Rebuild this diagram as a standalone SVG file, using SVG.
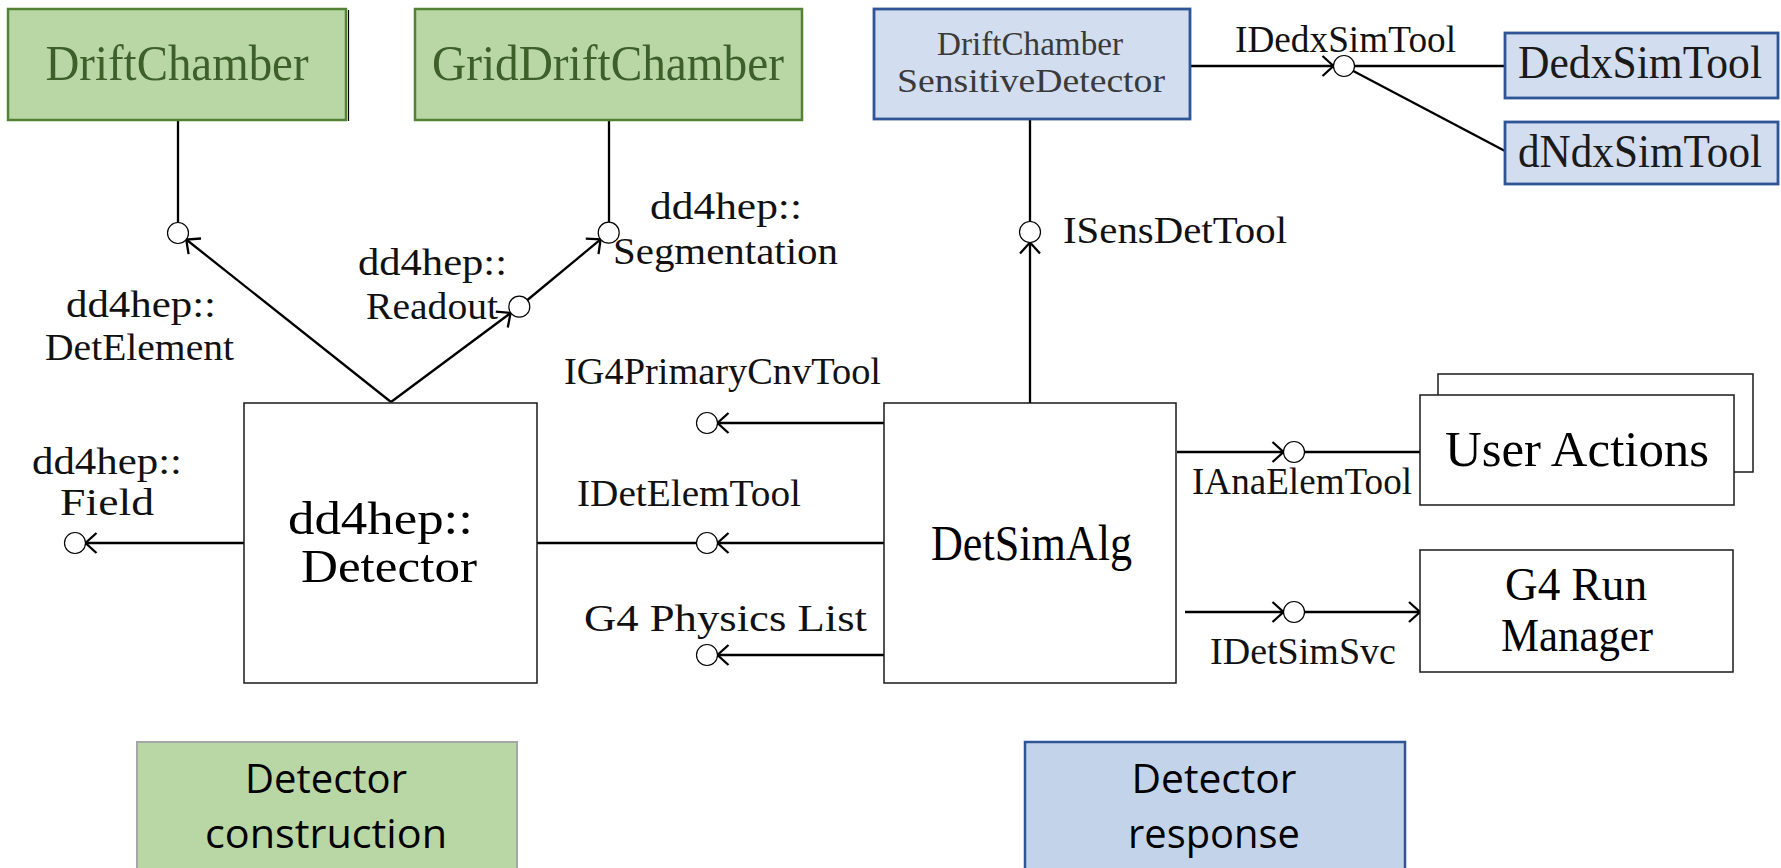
<svg xmlns="http://www.w3.org/2000/svg" width="1781" height="868" viewBox="0 0 1781 868">
  <defs>
    <style>
      .m { font-family: "Liberation Serif", "DejaVu Serif", serif; }
      .big { font-size: 50px; }
      .mid { font-size: 46px; }
      .lbl { font-size: 38px; fill: #111; }
      .sd { font-size: 33px; fill: #3a3a3a; }
      .green { fill: #b9d7a4; stroke: #548235; stroke-width: 2.5; }
      .gtext { fill: #3d5f2a; }
      .blue { fill: #d2deef; stroke: #2f5597; stroke-width: 2.8; }
      .plain { fill: #fff; stroke: #1a1a1a; stroke-width: 1.5; }
      .wire { stroke: #000; stroke-width: 2.3; fill: none; }
      .port { fill: #fff; stroke: #000; stroke-width: 1.2; }
      .legend { font-family: "Open Sans", "Liberation Sans", sans-serif; font-size: 40px; fill: #000; }
    </style>
    <marker id="arr" markerUnits="userSpaceOnUse" markerWidth="30" markerHeight="30" viewBox="-15 -15 30 30" refX="0" refY="0" orient="auto" overflow="visible">
      <path d="M-11,-10 L0,0 L-11,10" fill="none" stroke="#000" stroke-width="2.3"/>
    </marker>
  </defs>

  <rect width="1781" height="868" fill="#fff"/>

  <!-- connectors -->
  <g id="connectors">
    <!-- DriftChamber / DetElement -->
    <line class="wire" x1="178" y1="120" x2="178" y2="222.5"/>
    <line class="wire" x1="391" y1="402" x2="186.2" y2="239.5" marker-end="url(#arr)"/>
    <!-- Readout and Segmentation -->
    <line class="wire" x1="391" y1="402" x2="510.6" y2="313" marker-end="url(#arr)"/>
    <line class="wire" x1="527.4" y1="300" x2="600.6" y2="239.4" marker-end="url(#arr)"/>
    <line class="wire" x1="609" y1="120" x2="609" y2="222"/>
    <!-- Field -->
    <line class="wire" x1="244" y1="543" x2="85.5" y2="543" marker-end="url(#arr)"/>
    <!-- DetSimAlg tool interfaces -->
    <line class="wire" x1="884" y1="423" x2="717.5" y2="423" marker-end="url(#arr)"/>
    <line class="wire" x1="884" y1="543" x2="717.5" y2="543" marker-end="url(#arr)"/>
    <line class="wire" x1="537" y1="543" x2="696.5" y2="543"/>
    <line class="wire" x1="884" y1="655" x2="717.5" y2="655" marker-end="url(#arr)"/>
    <!-- ISensDetTool -->
    <line class="wire" x1="1030" y1="403" x2="1030" y2="242.5" marker-end="url(#arr)"/>
    <line class="wire" x1="1030" y1="120" x2="1030" y2="221.5"/>
    <!-- IDedxSimTool -->
    <line class="wire" x1="1190" y1="66" x2="1333.5" y2="66" marker-end="url(#arr)"/>
    <line class="wire" x1="1354.5" y1="66" x2="1505" y2="66"/>
    <line class="wire" x1="1353.3" y1="70.9" x2="1505" y2="151"/>
    <!-- IAnaElemTool -->
    <line class="wire" x1="1177" y1="452" x2="1283.5" y2="452" marker-end="url(#arr)"/>
    <line class="wire" x1="1304.5" y1="452" x2="1420" y2="452"/>
    <!-- IDetSimSvc -->
    <line class="wire" x1="1185" y1="612" x2="1283.5" y2="612" marker-end="url(#arr)"/>
    <line class="wire" x1="1304.5" y1="612" x2="1420" y2="612" marker-end="url(#arr)"/>

    <!-- interface ports -->
    <circle class="port" cx="178" cy="233" r="10.5"/>
    <circle class="port" cx="519.3" cy="306.7" r="10.5"/>
    <circle class="port" cx="608.7" cy="232.7" r="10.5"/>
    <circle class="port" cx="75" cy="543" r="10.5"/>
    <circle class="port" cx="707" cy="423" r="10.5"/>
    <circle class="port" cx="707" cy="543" r="10.5"/>
    <circle class="port" cx="707" cy="655" r="10.5"/>
    <circle class="port" cx="1030" cy="232" r="10.5"/>
    <circle class="port" cx="1344" cy="66" r="10.5"/>
    <circle class="port" cx="1294" cy="452" r="10.5"/>
    <circle class="port" cx="1294" cy="612" r="10.5"/>

    <!-- interface labels -->
    <g class="m lbl">
      <text x="66" y="317" textLength="150" lengthAdjust="spacingAndGlyphs">dd4hep::</text>
      <text x="45" y="360" textLength="189" lengthAdjust="spacingAndGlyphs">DetElement</text>
      <text x="358" y="275" textLength="149" lengthAdjust="spacingAndGlyphs">dd4hep::</text>
      <text x="366" y="319" textLength="132" lengthAdjust="spacingAndGlyphs">Readout</text>
      <text x="650" y="219" textLength="152" lengthAdjust="spacingAndGlyphs">dd4hep::</text>
      <text x="613" y="264" textLength="225" lengthAdjust="spacingAndGlyphs">Segmentation</text>
      <text x="32" y="474" textLength="150" lengthAdjust="spacingAndGlyphs">dd4hep::</text>
      <text x="60" y="515" textLength="94" lengthAdjust="spacingAndGlyphs">Field</text>
      <text x="564" y="384" textLength="317" lengthAdjust="spacingAndGlyphs">IG4PrimaryCnvTool</text>
      <text x="577" y="506" textLength="224" lengthAdjust="spacingAndGlyphs">IDetElemTool</text>
      <text x="584" y="631" textLength="283" lengthAdjust="spacingAndGlyphs">G4 Physics List</text>
      <text x="1063" y="243" textLength="224" lengthAdjust="spacingAndGlyphs">ISensDetTool</text>
      <text x="1235" y="52" textLength="221" lengthAdjust="spacingAndGlyphs">IDedxSimTool</text>
      <text x="1192" y="494" textLength="220" lengthAdjust="spacingAndGlyphs">IAnaElemTool</text>
      <text x="1210" y="664" textLength="186" lengthAdjust="spacingAndGlyphs">IDetSimSvc</text>
    </g>
  </g>

  <!-- geometry descriptions -->
  <g id="drift-chamber">
    <line x1="348.5" y1="10" x2="348.5" y2="121" stroke="#000" stroke-width="1.2"/>
    <rect class="green" x="8" y="9" width="338" height="111"/>
    <text class="m big gtext" x="177" y="80" text-anchor="middle" textLength="263" lengthAdjust="spacingAndGlyphs">DriftChamber</text>
  </g>
  <g id="grid-drift-chamber">
    <rect class="green" x="415" y="9" width="387" height="111"/>
    <text class="m big gtext" x="608" y="80" text-anchor="middle" textLength="352" lengthAdjust="spacingAndGlyphs">GridDriftChamber</text>
  </g>

  <!-- sensitive detector and its tools -->
  <g id="sensitive-detector">
    <rect class="blue" x="874" y="9" width="316" height="110"/>
    <text class="m sd" x="1030" y="55" text-anchor="middle" textLength="186" lengthAdjust="spacingAndGlyphs">DriftChamber</text>
    <text class="m sd" x="1031" y="92" text-anchor="middle" textLength="268" lengthAdjust="spacingAndGlyphs">SensitiveDetector</text>
  </g>
  <g id="dedx-sim-tool">
    <rect class="blue" x="1505" y="33" width="273" height="65"/>
    <text class="m mid" fill="#1a1a1a" x="1640" y="78" text-anchor="middle" textLength="244" lengthAdjust="spacingAndGlyphs">DedxSimTool</text>
  </g>
  <g id="dndx-sim-tool">
    <rect class="blue" x="1505" y="122" width="273" height="62"/>
    <text class="m mid" fill="#1a1a1a" x="1640" y="167" text-anchor="middle" textLength="244" lengthAdjust="spacingAndGlyphs">dNdxSimTool</text>
  </g>

  <!-- core components -->
  <g id="dd4hep-detector">
    <rect class="plain" x="244" y="403" width="293" height="280"/>
    <text class="m mid" x="288" y="534" textLength="185" lengthAdjust="spacingAndGlyphs">dd4hep::</text>
    <text class="m mid" x="301" y="582" textLength="176" lengthAdjust="spacingAndGlyphs">Detector</text>
  </g>
  <g id="det-sim-alg">
    <rect class="plain" x="884" y="403" width="292" height="280"/>
    <text class="m big" x="931" y="560" textLength="201" lengthAdjust="spacingAndGlyphs">DetSimAlg</text>
  </g>
  <g id="user-actions">
    <rect class="plain" x="1438" y="374" width="315" height="98"/>
    <rect class="plain" x="1420" y="395" width="314" height="110"/>
    <text class="m big" x="1445" y="466" textLength="264" lengthAdjust="spacingAndGlyphs">User Actions</text>
  </g>
  <g id="g4-run-manager">
    <rect class="plain" x="1420" y="550" width="313" height="122"/>
    <text class="m mid" x="1576" y="600" text-anchor="middle" textLength="142" lengthAdjust="spacingAndGlyphs">G4 Run</text>
    <text class="m mid" x="1577" y="651" text-anchor="middle" textLength="152" lengthAdjust="spacingAndGlyphs">Manager</text>
  </g>

  <!-- legend -->
  <g id="legend-construction">
    <rect x="137" y="742" width="380" height="140" fill="#b9d7a5" stroke="#a6a6a6" stroke-width="2"/>
    <text class="legend" x="326" y="793" text-anchor="middle" textLength="162" lengthAdjust="spacingAndGlyphs">Detector</text>
    <text class="legend" x="326" y="848" text-anchor="middle" textLength="242" lengthAdjust="spacingAndGlyphs">construction</text>
  </g>
  <g id="legend-response">
    <rect x="1025" y="742" width="380" height="140" fill="#c3d4ea" stroke="#2f5597" stroke-width="2.5"/>
    <text class="legend" x="1214" y="793" text-anchor="middle" textLength="165" lengthAdjust="spacingAndGlyphs">Detector</text>
    <text class="legend" x="1214" y="848" text-anchor="middle" textLength="172" lengthAdjust="spacingAndGlyphs">response</text>
  </g>
</svg>
